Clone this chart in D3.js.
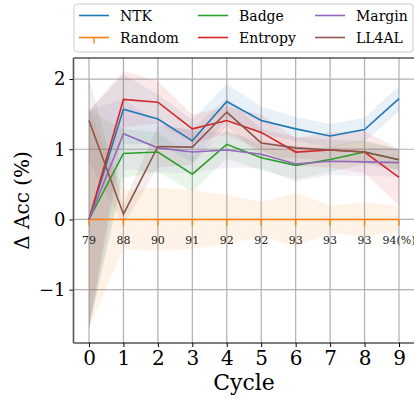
<!DOCTYPE html>
<html>
<head>
<meta charset="utf-8">
<script src="https://cdn.jsdelivr.net/npm/d3@7"></script>
<style>
  body { margin: 0; background: #fff; }
  svg { display: block; font-family: 'DejaVu Serif', serif; }
</style>
</head>
<body>
<svg id="chart" width="414" height="400"></svg>
<script>
// -----------
// DATOS
// -----------
const cycles = [0, 1, 2, 3, 4, 5, 6, 7, 8, 9];
const accLabels = ['79', '88', '90', '91', '92', '92', '93', '93', '93', '94(%)'];
const yTicks = [-1, 0, 1, 2];

const ntk = [0, 1.57, 1.43, 1.12, 1.68, 1.41, 1.29, 1.19, 1.28, 1.72];
const random = [0, 0, 0, 0, 0, 0, 0, 0, 0, 0];
const badge = [0, 0.94, 0.96, 0.645, 1.07, 0.88, 0.77, 0.855, 0.96, 0.85];
const entropy = [0, 1.71, 1.67, 1.29, 1.41, 1.24, 0.96, 0.99, 0.96, 0.60];
const margin = [0, 1.22, 1.02, 0.96, 0.99, 0.93, 0.79, 0.83, 0.82, 0.81];
const ll4al = [1.41, 0.075, 1.04, 1.03, 1.53, 1.09, 1.02, 0.99, 0.96, 0.85];

// desviaciones (banda sombreada)
const ntkSd = [1.55, 0.5, 0.35, 0.3, 0.25, 0.2, 0.17, 0.17, 0.17, 0.18];
const randomSd = [1.55, 0.42, 0.45, 0.42, 0.35, 0.25, 0.38, 0.2, 0.24, 0.19];
const badgeSd = [1.55, 0.35, 0.28, 0.25, 0.2, 0.18, 0.2, 0.18, 0.17, 0.15];
const entropySd = [1.55, 0.4, 0.3, 0.2, 0.2, 0.25, 0.2, 0.25, 0.3, 0.4];
const marginSd = [1.55, 0.5, 0.35, 0.3, 0.25, 0.2, 0.25, 0.2, 0.2, 0.2];
const ll4alSd = [0.6, 0.15, 0.3, 0.25, 0.2, 0.2, 0.15, 0.15, 0.15, 0.15];

const series = [
  { name: 'NTK', values: ntk, sd: ntkSd, color: '#1f77b4' },
  { name: 'Random', values: random, sd: randomSd, color: '#ff7f0e', tick: true },
  { name: 'Badge', values: badge, sd: badgeSd, color: '#2ca02c' },
  { name: 'Entropy', values: entropy, sd: entropySd, color: '#d62728' },
  { name: 'Margin', values: margin, sd: marginSd, color: '#9467bd' },
  { name: 'LL4AL', values: ll4al, sd: ll4alSd, color: '#8c564b' },
];

// -----------
// ESCALAS
// -----------
const plot = { left: 73.5, right: 414.5, top: 58, bottom: 343 };
const x = d3.scaleLinear().domain([-0.45, 9.45]).range([plot.left, plot.right]);
const y = d3.scaleLinear().domain([-1.76, 2.30]).range([plot.bottom, plot.top]);

const svg = d3.select('#chart');

svg.append('clipPath').attr('id', 'clip')
  .append('rect')
  .attr('x', plot.left).attr('y', plot.top)
  .attr('width', plot.right - plot.left).attr('height', plot.bottom - plot.top);

// grid
const grid = svg.append('g');
grid.selectAll('line.gx').data(cycles).enter().append('line')
  .attr('x1', (d) => x(d)).attr('x2', (d) => x(d))
  .attr('y1', plot.top).attr('y2', plot.bottom)
  .attr('stroke', '#b0b0b0').attr('stroke-width', 1.2);
grid.selectAll('line.gy').data(yTicks).enter().append('line')
  .attr('y1', (d) => y(d)).attr('y2', (d) => y(d))
  .attr('x1', plot.left).attr('x2', plot.right)
  .attr('stroke', '#b0b0b0').attr('stroke-width', 1.2);

const body = svg.append('g').attr('clip-path', 'url(#clip)');

// bandas
const area = d3.area()
  .x((d, i) => x(cycles[i]))
  .y0((d) => y(d[0] - d[1]))
  .y1((d) => y(d[0] + d[1]));

series.forEach((s) => {
  const pares = s.values.map((v, i) => [v, s.sd[i]]);
  body.append('path')
    .datum(pares)
    .attr('d', area)
    .attr('fill', s.color)
    .attr('fill-opacity', 0.1);
});

// lineas
const line = d3.line().x((d, i) => x(cycles[i])).y((d) => y(d));

series.forEach((s) => {
  body.append('path')
    .datum(s.values)
    .attr('d', line)
    .attr('fill', 'none')
    .attr('stroke', s.color)
    .attr('stroke-width', 1.6);
  if (s.tick) {
    body.selectAll(null).data(s.values).enter().append('line')
      .attr('x1', (d, i) => x(cycles[i])).attr('x2', (d, i) => x(cycles[i]))
      .attr('y1', (d) => y(d)).attr('y2', (d) => y(d) + 6)
      .attr('stroke', s.color).attr('stroke-width', 1.4);
  }
});

// etiquetas de precision
svg.append('g').selectAll('text').data(accLabels).enter().append('text')
  .attr('x', (d, i) => x(cycles[i]))
  .attr('y', y(0) + 25)
  .attr('text-anchor', 'middle')
  .attr('font-size', 11)
  .attr('fill', '#222')
  .text((d) => d);

// ejes
const xAxis = svg.append('g')
  .attr('transform', `translate(0,${plot.bottom})`)
  .call(d3.axisBottom(x).tickValues(cycles).tickSize(4).tickPadding(4).tickFormat(d3.format('d')));
xAxis.select('.domain').remove();
xAxis.selectAll('text').attr('font-size', 20).attr('fill', '#000').attr('font-family', 'DejaVu Serif');

const yAxis = svg.append('g')
  .attr('transform', `translate(${plot.left},0)`)
  .call(d3.axisLeft(y).tickValues(yTicks).tickSize(4).tickPadding(4)
    .tickFormat((d) => (d < 0 ? '\u2212' + Math.abs(d) : d)));
yAxis.select('.domain').remove();
yAxis.selectAll('text').attr('font-size', 18).attr('fill', '#000').attr('font-family', 'DejaVu Serif');

// spines
svg.append('line').attr('x1', plot.left).attr('x2', plot.right)
  .attr('y1', plot.top).attr('y2', plot.top).attr('stroke', '#000').attr('stroke-width', 1);
svg.append('line').attr('x1', plot.left).attr('x2', plot.right)
  .attr('y1', plot.bottom).attr('y2', plot.bottom).attr('stroke', '#000').attr('stroke-width', 1);
svg.append('line').attr('x1', plot.left).attr('x2', plot.left)
  .attr('y1', plot.top).attr('y2', plot.bottom).attr('stroke', '#555').attr('stroke-width', 1.6);

// titulos de ejes
svg.append('text')
  .attr('x', (plot.left + plot.right) / 2).attr('y', 390)
  .attr('text-anchor', 'middle').attr('font-size', 22)
  .text('Cycle');
svg.append('text')
  .attr('transform', `translate(29,${(plot.top + plot.bottom) / 2}) rotate(-90)`)
  .attr('text-anchor', 'middle').attr('font-size', 20)
  .text('\u0394 Acc (%)');

// -----------
// LEYENDA
// -----------
const leg = svg.append('g');
leg.append('rect')
  .attr('x', 74).attr('y', 4).attr('width', 339).attr('height', 48)
  .attr('rx', 3)
  .attr('fill', '#fff').attr('fill-opacity', 0.8)
  .attr('stroke', '#ccc').attr('stroke-width', 1);

const colX = [79, 198, 315];
const rowY = [15.5, 37.5];
series.forEach((s, i) => {
  const cx = colX[Math.floor(i / 2)];
  const cy = rowY[i % 2];
  const g = leg.append('g');
  g.append('line')
    .attr('x1', cx).attr('x2', cx + 30).attr('y1', cy).attr('y2', cy)
    .attr('stroke', s.color).attr('stroke-width', 1.6);
  if (s.tick) {
    g.append('line')
      .attr('x1', cx + 15).attr('x2', cx + 15).attr('y1', cy).attr('y2', cy + 6)
      .attr('stroke', s.color).attr('stroke-width', 1.4);
  }
  g.append('text')
    .attr('x', cx + 41).attr('y', cy + 5)
    .attr('font-size', 14)
    .text(s.name);
});
</script>
</body>
</html>
